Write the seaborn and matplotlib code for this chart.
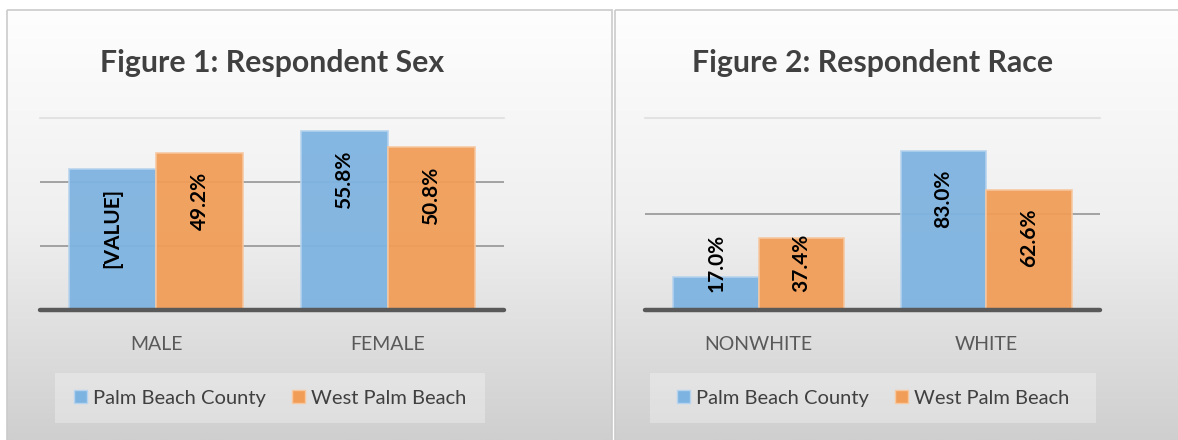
import numpy as np
import pandas as pd
import seaborn as sns
import matplotlib.pyplot as plt
from matplotlib.colors import LinearSegmentedColormap
from matplotlib.patches import Patch, Rectangle

# data
areas = ["Palm Beach County", "West Palm Beach"]
sex_cats = ["MALE", "FEMALE"]
sex_pbc = [44.2, 55.8]
sex_wpb = [49.2, 50.8]
sex_text_pbc = ["[VALUE]", "55.8%"]
sex_text_wpb = ["49.2%", "50.8%"]
race_cats = ["NONWHITE", "WHITE"]
race_pbc = [17.0, 83.0]
race_wpb = [37.4, 62.6]
race_text_pbc = ["17.0%", "83.0%"]
race_text_wpb = ["37.4%", "62.6%"]

W, H = 1178, 440
blue = "#7DB3E0"
orange = "#F19D57"
edges = ["#B5D3EE", "#F7C79E"]

sns.set_theme(style="white")
plt.rcParams["font.family"] = ["Lato", "DejaVu Sans"]

fig = plt.figure(figsize=(W / 100, H / 100), dpi=100)
fig.patch.set_facecolor("white")


def fx(px):
	return px / W


def fy(py):
	return 1 - py / H


# panel backgrounds
bg = fig.add_axes([0, 0, 1, 1], zorder=-10)
bg.set_xlim(0, W)
bg.set_ylim(H, 0)
bg.axis("off")
grad = np.linspace(0, 1, 256).reshape(-1, 1)
cmap = LinearSegmentedColormap.from_list("g", ["#fefefe", "#efefef", "#cfcfcf"])
for x0, x1 in [(7, 612), (615, W + 2)]:
	bg.imshow(grad, cmap=cmap, aspect="auto", extent=(x0, x1, H, 10), zorder=0)
	bg.add_patch(Rectangle((x0, 10), x1 - x0, H, fill=False, edgecolor="#cbcbcb", lw=1.2, zorder=1))


def panel(left_px, right_px, cats, pbc, wpb, texts, ymax, title):
	ax = fig.add_axes([fx(left_px), fy(310), fx(right_px - left_px), 192 / H])
	df = pd.DataFrame({
		"cat": cats * 2,
		"area": [areas[0]] * 2 + [areas[1]] * 2,
		"val": pbc + wpb,
	})
	sns.barplot(data=df, x="cat", y="val", hue="area", order=cats, hue_order=areas,
	            palette=[blue, orange], saturation=1, width=0.75, alpha=0.94, legend=False,
	            ax=ax, linewidth=1.2, errorbar=None)
	for cont, ec in zip(ax.containers, edges):
		for b in cont:
			b.set_edgecolor(ec)
	ax.set_facecolor("none")
	ax.set_xlim(-0.5, 1.5)
	ax.set_ylim(0, ymax)
	step = ymax / 3 if ymax == 60 else ymax / 2
	for g in np.arange(step, ymax - 0.01, step):
		ax.axhline(g, color="#9c9c9c", lw=1.3, zorder=0)
	ax.axhline(ymax, color="#e2e2e2", lw=1.5, zorder=0, clip_on=False)
	ax.axhline(0, color="#595959", lw=3.2, zorder=5, clip_on=False)
	for s in ax.spines.values():
		s.set_visible(False)
	ax.set_yticks([])
	ax.set_xlabel("")
	ax.set_ylabel("")
	ax.tick_params(axis="x", length=0, pad=19, labelsize=14, labelcolor="#595959")
	# data labels, inside end
	for cont, labs in zip(ax.containers, texts):
		for b, lab in zip(cont, labs):
			xc = b.get_x() + b.get_width() / 2
			h = b.get_height()
			hpx = ax.transData.transform((0, h))[1] - ax.transData.transform((0, 0))[1]
			if hpx > 100:
				ax.annotate(lab, (xc, h), xytext=(0, -19 * 0.72), textcoords="offset points",
				            rotation=90, ha="center", va="top", fontsize=15, fontweight="bold",
				            color="black", zorder=6)
			else:
				ax.annotate(lab, (xc, 0), xytext=(0, 18 * 0.72), textcoords="offset points",
				            rotation=90, ha="center", va="bottom", fontsize=15, fontweight="bold",
				            color="black", zorder=6)
	cx = (left_px + right_px) / 2
	fig.text(fx(cx), fy(72), title, ha="center", va="baseline", fontsize=21.8,
	         fontweight="bold", color="#404040")
	return ax, cx


ax1, c1 = panel(40, 504, sex_cats, sex_pbc, sex_wpb, [sex_text_pbc, sex_text_wpb], 60,
                "Figure 1: Respondent Sex")
ax2, c2 = panel(645, 1100, race_cats, race_pbc, race_wpb, [race_text_pbc, race_text_wpb], 100,
                "Figure 2: Respondent Race")

# legends
handles = [Patch(facecolor=blue, edgecolor=edges[0]), Patch(facecolor=orange, edgecolor=edges[1])]
for (x0, x1), cx in [((55, 485), c1), ((650, 1096), c2)]:
	fig.patches.append(Rectangle((fx(x0), fy(423)), fx(x1 - x0), 50 / H, transform=fig.transFigure,
	                             facecolor="white", alpha=0.3, edgecolor="none"))
	leg = fig.legend(handles, areas, loc="center", bbox_to_anchor=(fx((x0 + x1) / 2), fy(398)),
	                 ncol=2, frameon=False, fontsize=14.5, handlelength=0.65, handleheight=0.65,
	                 handletextpad=0.3, columnspacing=1.3)
	for t in leg.get_texts():
		t.set_color("#404040")

fig.savefig("out.png", dpi=100)
